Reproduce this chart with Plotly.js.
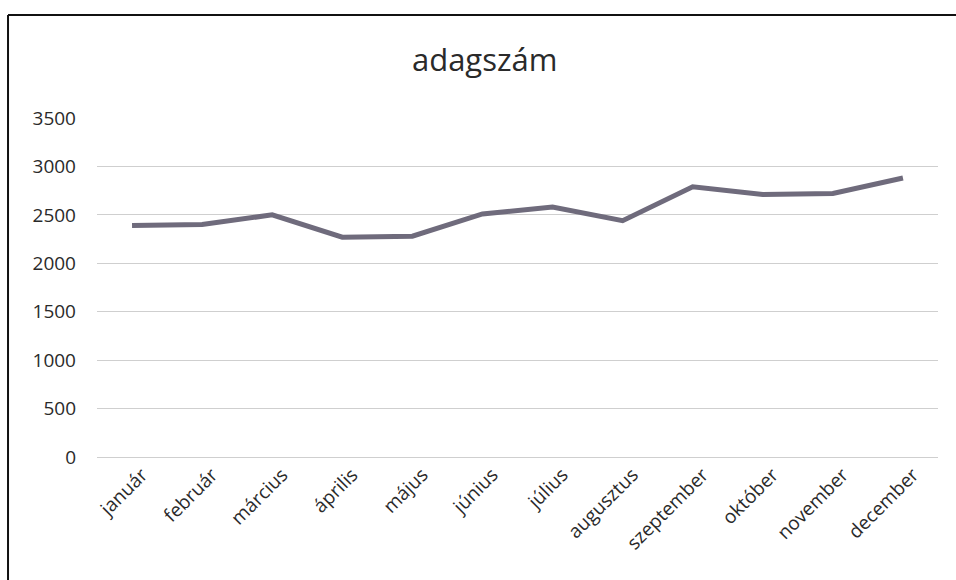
<!DOCTYPE html>
<html>
<head>
<meta charset="utf-8">
<script src="https://cdn.plot.ly/plotly-3.0.1.min.js"></script>
<style>
html,body{margin:0;padding:0;background:#fff;}
#chart{width:956px;height:580px;}
</style>
</head>
<body>
<div id="chart"></div>
<script>
var months = ["január","február","március","április","május","június","július","augusztus","szeptember","október","november","december"];
var adagszam = [2390, 2400, 2500, 2270, 2280, 2510, 2580, 2440, 2790, 2710, 2720, 2880];
var yTicks = [0, 500, 1000, 1500, 2000, 2500, 3000, 3500];
var chartTitle = "adagszám";

var trace = {
  x: months,
  y: adagszam,
  type: "scatter",
  mode: "lines",
  line: {color: "#6f6b7c", width: 5},
  hoverinfo: "x+y"
};

var layout = {
  width: 956,
  height: 580,
  margin: {l: 97, r: 18, t: 118, b: 123},
  paper_bgcolor: "#ffffff",
  plot_bgcolor: "#ffffff",
  showlegend: false,
  title: {
    text: chartTitle,
    x: 0.507, xanchor: "center",
    y: 0.897, yanchor: "middle",
    font: {family: "Open Sans, sans-serif", size: 31, color: "#2a2a2a"}
  },
  xaxis: {
    type: "category",
    range: [-0.5, 11.5],
    tickangle: -45,
    showgrid: false,
    zeroline: false,
    showline: false,
    ticks: "",
    ticklabelshift: 10,
    ticklabelstandoff: 2,
    tickfont: {family: "Open Sans, sans-serif", size: 19, color: "#2a2a2a"}
  },
  yaxis: {
    range: [0, 3500],
    tickvals: yTicks,
    ticktext: yTicks.map(String),
    showgrid: true,
    gridcolor: "#cfcfcf",
    gridwidth: 1,
    zeroline: true,
    zerolinecolor: "#cfcfcf",
    zerolinewidth: 1,
    showline: false,
    ticks: "",
    ticklabelstandoff: 20,
    tickfont: {family: "Open Sans, sans-serif", size: 19, color: "#2a2a2a"}
  },
  shapes: [
    {type: "line", xref: "paper", yref: "paper", x0: -0.1058, x1: 1.03, y0: 1.3039, y1: 1.3039,
     line: {color: "#111111", width: 2}},
    {type: "line", xref: "paper", yref: "paper", x0: -0.1058, x1: -0.1058, y0: 1.3039, y1: -0.4,
     line: {color: "#111111", width: 2}}
  ]
};

Plotly.newPlot("chart", [trace], layout, {displayModeBar: false, staticPlot: true});
</script>
</body>
</html>
